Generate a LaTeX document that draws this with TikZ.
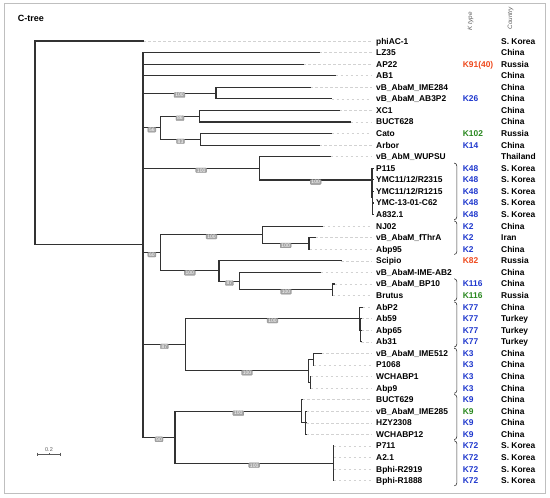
\documentclass[tikz,border=0pt]{standalone}
\usepackage{fontspec}
\setmainfont{Liberation Sans}
\usetikzlibrary{calc}
\definecolor{kblue}{RGB}{30,55,205}
\definecolor{kred}{RGB}{238,72,28}
\definecolor{kgreen}{RGB}{40,135,30}
\definecolor{treeline}{RGB}{50,50,50}
\newcommand\leafrow[7]{%
  \coordinate (t#1) at (#3,#2);
  \node[leaf] (L#1) at (376,#2) {#4};
  \node[ktxt, text=#6] (K#1) at (462.7,#2) {#5};
  \node[ctxt] (C#1) at (501,#2) {#7};
}
\newcommand\kgroup[2]{%
  \draw[kbr] (454.2,#1-5.2) to[out=0,in=90] (456.8,#1-2.4) -- (456.8,#2+2.4) to[out=-90,in=0] (454.2,#2+5.2);
}
\begin{document}
\begin{tikzpicture}[x=1pt,y=-1pt,
  br/.style={draw=treeline, line width=1.1pt, line cap=rect},
  leader/.style={draw=gray!35, line width=0.6pt, dash pattern=on 2.5pt off 2.5pt, shorten >=4.5pt},
  leaf/.style={anchor=west, inner sep=0pt, text height=6pt, text depth=0pt, font=\bfseries\fontsize{8.4}{10}\selectfont},
  ktxt/.style={anchor=west, inner sep=0pt, text height=6pt, text depth=0pt, font=\bfseries\fontsize{8.4}{10}\selectfont},
  ctxt/.style={anchor=west, inner sep=0pt, text height=6pt, text depth=0pt, font=\bfseries\fontsize{8.4}{10}\selectfont},
  boot/.style={draw=gray!90, fill=gray!70, text=white, rounded corners=0.8pt, inner xsep=1.3pt, inner ysep=0.6pt,
     font=\fontsize{5}{5}\selectfont, text height=3.6pt, text depth=0pt, anchor=north, line width=0.3pt, yshift=0.6pt},
  kbr/.style={draw=black!80, line width=0.6pt},
  hdr/.style={rotate=90, anchor=west, inner sep=0pt, text=black!65, font=\itshape\fontsize{6.3}{7}\selectfont}
]
\useasboundingbox (0,0) rectangle (550,498);
\draw[gray!50, line width=0.8pt] (4.5,3) rectangle (545.5,493.5);

\node[anchor=west, inner sep=0pt, font=\bfseries\fontsize{9}{10}\selectfont] (title) at (17.6,18.3) {C-tree};
\node[hdr] (hk) at (470.5,30.5) {K type};
\node[hdr] (hc) at (510.5,29.5) {Country};

% leaves
\leafrow{0}{41.00}{143}{phiAC-1}{}{black}{S. Korea}
\leafrow{1}{52.57}{319.3}{LZ35}{}{black}{China}
\leafrow{2}{64.14}{303}{AP22}{K91(40)}{kred}{Russia}
\leafrow{3}{75.71}{335.7}{AB1}{}{black}{China}
\leafrow{4}{87.28}{310.3}{vB\_AbaM\_IME284}{}{black}{China}
\leafrow{5}{98.85}{331.7}{vB\_AbaM\_AB3P2}{K26}{kblue}{China}
\leafrow{6}{110.42}{339}{XC1}{}{black}{China}
\leafrow{7}{121.99}{350.7}{BUCT628}{}{black}{China}
\leafrow{8}{133.56}{331.7}{Cato}{K102}{kgreen}{Russia}
\leafrow{9}{145.13}{319.3}{Arbor}{K14}{kblue}{China}
\leafrow{10}{156.70}{330.7}{vB\_AbM\_WUPSU}{}{black}{Thailand}
\leafrow{11}{168.27}{373.5}{P115}{K48}{kblue}{S. Korea}
\leafrow{12}{179.84}{373.5}{YMC11/12/R2315}{K48}{kblue}{S. Korea}
\leafrow{13}{191.41}{373.5}{YMC11/12/R1215}{K48}{kblue}{S. Korea}
\leafrow{14}{202.98}{373.5}{YMC-13-01-C62}{K48}{kblue}{S. Korea}
\leafrow{15}{214.55}{373.5}{A832.1}{K48}{kblue}{S. Korea}
\leafrow{16}{226.12}{322.7}{NJ02}{K2}{kblue}{China}
\leafrow{17}{237.69}{315}{vB\_AbaM\_fThrA}{K2}{kblue}{Iran}
\leafrow{18}{249.26}{309.6}{Abp95}{K2}{kblue}{China}
\leafrow{19}{260.83}{341}{Scipio}{K82}{kred}{Russia}
\leafrow{20}{272.40}{320.7}{vB\_AbaM-IME-AB2}{}{black}{China}
\leafrow{21}{283.97}{334.7}{vB\_AbaM\_BP10}{K116}{kblue}{China}
\leafrow{22}{295.54}{332.6}{Brutus}{K116}{kgreen}{Russia}
\leafrow{23}{307.11}{362.5}{AbP2}{K77}{kblue}{China}
\leafrow{24}{318.68}{361.3}{Ab59}{K77}{kblue}{Turkey}
\leafrow{25}{330.25}{361.3}{Abp65}{K77}{kblue}{Turkey}
\leafrow{26}{341.82}{361.3}{Ab31}{K77}{kblue}{Turkey}
\leafrow{27}{353.39}{321.3}{vB\_AbaM\_IME512}{K3}{kblue}{China}
\leafrow{28}{364.96}{313.6}{P1068}{K3}{kblue}{China}
\leafrow{29}{376.53}{310.6}{WCHABP1}{K3}{kblue}{China}
\leafrow{30}{388.10}{310.9}{Abp9}{K3}{kblue}{China}
\leafrow{31}{399.67}{302.3}{BUCT629}{K9}{kblue}{China}
\leafrow{32}{411.24}{306.2}{vB\_AbaM\_IME285}{K9}{kgreen}{China}
\leafrow{33}{422.81}{306.2}{HZY2308}{K9}{kblue}{China}
\leafrow{34}{434.38}{306.2}{WCHABP12}{K9}{kblue}{China}
\leafrow{35}{445.95}{333.9}{P711}{K72}{kblue}{S. Korea}
\leafrow{36}{457.52}{333.9}{A2.1}{K72}{kblue}{S. Korea}
\leafrow{37}{469.09}{333.9}{Bphi-R2919}{K72}{kblue}{S. Korea}
\leafrow{38}{480.66}{333.9}{Bphi-R1888}{K72}{kblue}{S. Korea}

% leader lines
\foreach \i in {0,...,10,16,17,...,38} \draw[leader] (t\i) -- (L\i.west);

% internal nodes
\coordinate (root) at (35,142.85);
\coordinate (n1) at (143,244.9);
\coordinate (nA) at (216,93.07);
\coordinate (n56) at (160.7,127.8);
\coordinate (n86) at (199.3,116.2);
\coordinate (n83) at (200.3,139.35);
\coordinate (nW) at (259.3,168.35);
\coordinate (nK48) at (372,180);
\coordinate (nK48b) at (372.6,197.2);
\coordinate (n60) at (160.7,252.7);
\coordinate (nK2) at (262.3,234.7);
\coordinate (nF) at (309,243.47);
\coordinate (nS) at (219,270.9);
\coordinate (n87b) at (239.7,281.1);
\coordinate (nBP) at (332.3,289.75);
\coordinate (n87) at (185.7,344.35);
\coordinate (nK77) at (359.3,318.7);
\coordinate (nK77b) at (360.6,330.25);
\coordinate (nK3) at (308.3,370.75);
\coordinate (nK3a) at (313.3,359.18);
\coordinate (nK3b) at (310.3,382.3);
\coordinate (n90) at (175,437.25);
\coordinate (nK9) at (301.7,411.2);
\coordinate (nK9b) at (305.6,422.8);
\coordinate (nK72) at (333.3,463.3);

% edges
\draw[br] (root) |- (t0);
\draw[br] (root) |- (n1);
\foreach \c in {t1,t2,t3} \draw[br] (n1) |- (\c);
\draw[br] (n1) |- (nA) node[boot,pos=.75] {100};
\draw[br] (n1) |- (n56) node[boot,pos=.75] {56};
\draw[br] (n1) |- (nW) node[boot,pos=.75] {100};
\draw[br] (n1) |- (n60) node[boot,pos=.75] {60};
\draw[br] (n1) |- (n87) node[boot,pos=.75] {87};
\draw[br] (n1) |- (n90) node[boot,pos=.75] {90};
\foreach \c in {t4,t5} \draw[br] (nA) |- (\c);
\draw[br] (n56) |- (n86) node[boot,pos=.75] {86};
\draw[br] (n56) |- (n83) node[boot,pos=.75] {83};
\foreach \c in {t6,t7} \draw[br] (n86) |- (\c);
\foreach \c in {t8,t9} \draw[br] (n83) |- (\c);
\draw[br] (nW) |- (t10);
\draw[br] (nW) |- (nK48) node[boot,pos=.75] {100};
\draw[br] (nK48) |- (t11);
\draw[br] (nK48) |- (nK48b);
\foreach \c in {t12,t13,t14,t15} \draw[br] (nK48b) |- (\c);
\draw[br] (n60) |- (nK2) node[boot,pos=.75] {100};
\draw[br] (n60) |- (nS) node[boot,pos=.75] {100};
\draw[br] (nK2) |- (t16);
\draw[br] (nK2) |- (nF) node[boot,pos=.75] {100};
\foreach \c in {t17,t18} \draw[br] (nF) |- (\c);
\draw[br] (nS) |- (t19);
\draw[br] (nS) |- (n87b) node[boot,pos=.75] {87};
\draw[br] (n87b) |- (t20);
\draw[br] (n87b) |- (nBP) node[boot,pos=.75] {100};
\foreach \c in {t21,t22} \draw[br] (nBP) |- (\c);
\draw[br] (n87) |- (nK77) node[boot,pos=.75] {100};
\draw[br] (n87) |- (nK3) node[boot,pos=.75] {100};
\draw[br] (nK77) |- (t23);
\draw[br] (nK77) |- (nK77b);
\foreach \c in {t24,t25,t26} \draw[br] (nK77b) |- (\c);
\foreach \c in {nK3a,nK3b} \draw[br] (nK3) |- (\c);
\foreach \c in {t27,t28} \draw[br] (nK3a) |- (\c);
\foreach \c in {t29,t30} \draw[br] (nK3b) |- (\c);
\draw[br] (n90) |- (nK9) node[boot,pos=.75] {100};
\draw[br] (n90) |- (nK72) node[boot,pos=.75] {100};
\draw[br] (nK9) |- (t31);
\draw[br] (nK9) |- (nK9b);
\foreach \c in {t32,t33,t34} \draw[br] (nK9b) |- (\c);
\foreach \c in {t35,t36,t37,t38} \draw[br] (nK72) |- (\c);

% K-type brackets
\kgroup{168.27}{214.55}
\kgroup{226.12}{249.26}
\kgroup{283.97}{295.54}
\kgroup{307.11}{341.82}
\kgroup{353.39}{388.10}
\kgroup{399.67}{434.38}
\kgroup{445.95}{480.66}

% scale bar
\coordinate (sbL) at (37.3,454);
\coordinate (sbR) at (60.7,454);
\draw[gray!70!black, line width=0.5pt] (sbL) -- (sbR);
\draw[gray!70!black, line width=0.5pt] ($(sbL)+(0,-1.5)$) -- ($(sbL)+(0,1.5)$);
\draw[gray!70!black, line width=0.5pt] ($(sbR)+(0,-1.5)$) -- ($(sbR)+(0,1.5)$);
\draw[gray!70!black, line width=0.5pt] ($(sbL)!0.5!(sbR)+(0,-1)$) -- ($(sbL)!0.5!(sbR)+(0,1)$);
\node[inner sep=0pt, text=gray!70!black, font=\fontsize{5.5}{6}\selectfont] (sbt) at (49,449.5) {0.2};
\end{tikzpicture}
\end{document}
